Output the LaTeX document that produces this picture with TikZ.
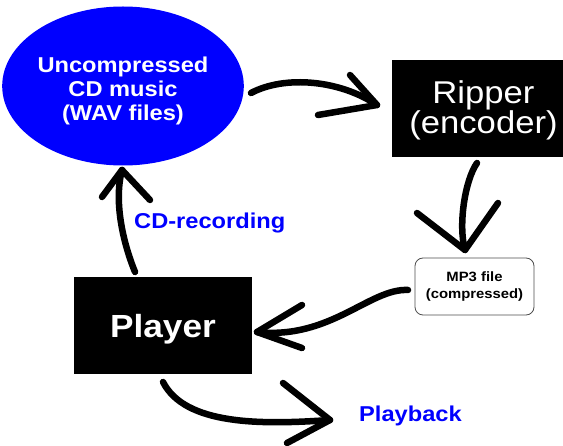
\documentclass[tikz,border=0pt]{standalone}
\usepackage{fontspec}
\usepackage{tikz}
\usetikzlibrary{shapes.geometric}
\newfontfamily\diagfont[FakeStretch=1.1]{Liberation Sans}

\tikzset{
  brush/.style={line width=6.5pt, line cap=round, line join=round},
  darkbox/.style={fill=black, text=white, inner sep=0pt},
  bluelabel/.style={text=blue, inner sep=0pt, font=\diagfont\bfseries\fontsize{21.5}{24}\selectfont},
}

\begin{document}
\begin{tikzpicture}[x=1pt, y=-1pt]
\useasboundingbox (0,0) rectangle (563,446);
\clip (0,0) rectangle (563,446);

% the four stations
\node[ellipse, fill=blue, text=white, inner sep=0pt, align=center,
      minimum width=232pt, minimum height=159pt,
      font=\diagfont\bfseries\fontsize{21.5}{24}\selectfont] (wav) at (123,86)
      {\rule{0pt}{25pt}Uncompressed\\CD music\\(WAV files)};
\node[darkbox, align=center, minimum width=183pt, minimum height=97pt,
      font=\diagfont\fontsize{31.5}{30}\selectfont] (ripper) at (483.5,108.5)
      {\rule{0pt}{27pt}Ripper\\(encoder)};
\node[draw=black!70, line width=0.8pt, rounded corners=8pt, inner sep=0pt, align=center,
      minimum width=119pt, minimum height=57pt,
      font=\diagfont\bfseries\fontsize{13.5}{17}\selectfont] (mp3) at (474.5,286.5)
      {MP3 file\\(compressed)};
\node[darkbox, text depth=0pt, minimum width=178pt, minimum height=97pt,
      font=\diagfont\bfseries\fontsize{32}{36}\selectfont] (player) at (163,325.5) {Player};

% labels
\node[bluelabel, anchor=base west] (rec) at (134,229) {CD-recording};
\node[bluelabel, anchor=base west] (play) at (359,422) {Playback};

% arrow ends
\coordinate (s1) at (251,93);  \coordinate (t1) at (377,105); % wav -> ripper
\coordinate (s2) at (477,163); \coordinate (t2) at (465,250); % ripper -> mp3
\coordinate (s3) at (408,290); \coordinate (t3) at (257,332); % mp3 -> player
\coordinate (s4) at (135,272); \coordinate (t4) at (122,170); % player -> wav
\coordinate (s5) at (163,382); \coordinate (t5) at (330,420); % player -> playback

% brush arrows
\draw[brush] (s1) .. controls (285,75) and (340,80) .. (t1);
\draw[brush] (t1) -- ++(-27,-30) (t1) -- ++(-59,10);

\draw[brush] (s2) .. controls (465,180) and (458,225) .. (t2);
\draw[brush] (t2) -- ++(-48,-37) (t2) -- ++(33,-47);

\draw[brush] (s3) .. controls (370,288) and (330,340) .. (t3);
\draw[brush] (t3) -- ++(45,-27) (t3) -- ++(45,16);

\draw[brush] (s4) .. controls (122,240) and (114,200) .. (t4);
\draw[brush] (t4) -- ++(-20,27) (t4) -- ++(28,30);

\draw[brush] (s5) .. controls (185,425) and (260,425) .. (t5);
\draw[brush] (t5) -- ++(-47,-37) (t5) -- ++(-43,23);
\end{tikzpicture}
\end{document}
